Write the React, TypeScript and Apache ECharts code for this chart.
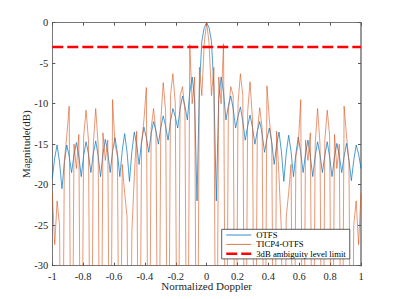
import React, { useEffect, useRef } from "react";
import * as echarts from "echarts";

// Sample spacing of the Doppler grid (-1 .. 1)
const SAMPLE_STEP = 1 / 64;
const D = -60; // deep null (below the axis floor)

// OTFS ambiguity cut (dB)
const otfsDb = [
  -19.2, -16.7, -15.1, -17.2,
  -20.5, -17.3, -15.1, -16.5,
  -18.5, -16.3, -14.8, -16.5,
  -19, -16.4, -14.7, -16.2,
  -18.5, -16.2, -14.6, -16.4,
  -19, -16.2, -14.4, -16,
  -18.5, -15.9, -14.2, -16.1,
  -19, -15.8, -13.7, -16,
  -19.6, -15.9, -13.5, -15.1,
  -17.5, -14.7, -12.9, -14.2,
  -16, -13.7, -12.2, -13.4,
  -15, -12.9, -11.5, -12.8,
  -14.5, -12.2, -10.6, -11.6,
  -13, -10.6, -9.05, -10.3,
  -12, -8.6, -6.7, -9.5,
  -22, -8, -2.3, -0.6,
  0,
  -0.6, -2.3, -8,
  -22, -9.5, -6.7, -8.6,
  -12, -10.3, -9.05, -10.6,
  -13, -11.6, -10.4, -12.2,
  -14.5, -12.8, -11.4, -12.9,
  -15, -13.4, -12.2, -13.7,
  -16, -14.3, -13, -14.8,
  -17.5, -15.1, -13.5, -15.9,
  -19.6, -16.1, -13.9, -15.9,
  -19, -16.2, -14.1, -16,
  -18.5, -16.2, -14.5, -16.5,
  -19, -16.5, -14.7, -16.3,
  -18.5, -16.4, -14.7, -16.6,
  -19, -16.6, -14.9, -16.4,
  -18.5, -16.5, -14.9, -17,
  -19.5, -17, -15.1, -16.2,
  -18,
];

// TICP4-OTFS ambiguity cut (dB)
const ticpDb = [
  -21, -27.4, -22, -25,
  D, -17, -14, -10.3,
  D, -15, -18, -13.8,
  D, -14, -10.8, -14.5,
  D, -15, -10.6, -15,
  D, -13.6, -17, -14.5,
  D, -9.5, -15, -16.5,
  D, -17.5, -21, -24,
  D, -25.8, -19, -13.4,
  D, -15, -12, -8,
  D, -13, -10.6, -13.6,
  D, -12, -7.4, -11,
  D, -9, -6.3, -10,
  D, -9, -7.9, -11,
  D, -2.7, -10, -6.7,
  D, -5.5, -9, -2.5,
  0,
  -2.5, -9, -5.5,
  D, -6.7, -10, -2.6,
  D, -11, -7.9, -9,
  D, -10, -6.3, -9,
  D, -11, -7.3, -12,
  D, -13.6, -10.5, -13,
  D, -7.8, -12, -15,
  D, -13.4, -19, -25.8,
  D, -24, -21, -17.5,
  D, -16.5, -15, -9.5,
  D, -14.5, -17, -13.6,
  D, -15, -10.6, -15,
  D, -14.5, -10.8, -14,
  D, -13.8, -18, -15,
  D, -10.3, -14, -17,
  D, -25, -22, -27.4,
  -21,
];

const limitDb = [-3, -3];
const limitX = [-1, 1];
const seriesNames = ["OTFS", "TICP4-OTFS", "3dB ambiguity level limit"];

export default function App() {
  const ref = useRef<HTMLDivElement>(null);

  useEffect(() => {
    const chart = echarts.init(ref.current!, null, { renderer: "svg" });
    const doppler = otfsDb.map((_, i) => -1 + i * SAMPLE_STEP);
    const font = "'Liberation Serif', 'Times New Roman', serif";
    const axisColor = "#777777";
    const labelColor = "#262626";

    const baseX = {
      type: "value",
      min: -1,
      max: 1,
      interval: 0.2,
      splitLine: { show: false },
    };
    const baseY = {
      type: "value",
      min: -30,
      max: 0,
      interval: 5,
      splitLine: { show: false },
    };

    chart.setOption({
      animation: false,
      backgroundColor: "#ffffff",
      grid: { left: 52.3, right: 38, top: 22.7, bottom: 33.3 },
      legend: {
        data: [
          { name: seriesNames[0], lineStyle: { width: 0.8 } },
          { name: seriesNames[1], lineStyle: { width: 0.8 } },
          { name: seriesNames[2], lineStyle: { width: 2.5 } },
        ],
        orient: "vertical",
        left: 221.7,
        top: 229.3,
        itemWidth: 25,
        itemHeight: 10,
        itemGap: 0.4,
        padding: [1.2, 4, 0.6, 3.3],
        backgroundColor: "#ffffff",
        borderColor: "#333333",
        borderWidth: 0.8,
        borderRadius: 0,
        itemStyle: { opacity: 0 },
        textStyle: { fontFamily: font, fontSize: 8.7, color: "#000000" },
      },
      xAxis: [
        {
          ...baseX,
          position: "bottom",
          name: "Normalized Doppler",
          nameLocation: "middle",
          nameGap: 15,
          nameMoveOverlap: false,
          nameTextStyle: { fontFamily: font, fontSize: 11, color: labelColor },
          axisLine: { show: true, onZero: false, lineStyle: { color: axisColor, width: 1 } },
          axisTick: { show: true, inside: true, length: 3, lineStyle: { color: "#555555" } },
          axisLabel: { fontFamily: font, fontSize: 10.5, color: labelColor, margin: 5 },
        },
        {
          ...baseX,
          position: "top",
          axisLine: { show: true, onZero: false, lineStyle: { color: axisColor, width: 1 } },
          axisTick: { show: true, inside: true, length: 3, lineStyle: { color: "#555555" } },
          axisLabel: { show: false },
        },
      ],
      yAxis: [
        {
          ...baseY,
          position: "left",
          name: "Magnitude(dB)",
          nameLocation: "middle",
          nameGap: 21,
          nameMoveOverlap: false,
          nameTextStyle: { fontFamily: font, fontSize: 11, color: labelColor },
          axisLine: { show: true, onZero: false, lineStyle: { color: axisColor, width: 1 } },
          axisTick: { show: true, inside: true, length: 3, lineStyle: { color: "#555555" } },
          axisLabel: { fontFamily: font, fontSize: 10.5, color: labelColor, margin: 4 },
        },
        {
          ...baseY,
          position: "right",
          axisLine: { show: true, onZero: false, lineStyle: { color: axisColor, width: 1.5 } },
          axisTick: { show: true, inside: true, length: 3, lineStyle: { color: "#555555" } },
          axisLabel: { show: false },
        },
      ],
      series: [
        {
          name: seriesNames[0],
          type: "line",
          data: doppler.map((x, i) => [x, otfsDb[i]]),
          symbol: "none",
          showSymbol: false,
          clip: true,
          lineStyle: { color: "#0072BD", width: 0.7 },
          itemStyle: { color: "#0072BD" },
          z: 2,
        },
        {
          name: seriesNames[1],
          type: "line",
          data: doppler.map((x, i) => [x, ticpDb[i]]),
          symbol: "none",
          showSymbol: false,
          clip: true,
          lineStyle: { color: "#D95319", width: 0.6 },
          itemStyle: { color: "#D95319" },
          z: 3,
        },
        {
          name: seriesNames[2],
          type: "line",
          data: limitX.map((x, i) => [x, limitDb[i]]),
          symbol: "none",
          showSymbol: false,
          lineStyle: { color: "#FF0000", width: 2.5, type: [11, 4] },
          itemStyle: { color: "#FF0000" },
          z: 4,
        },
      ],
    });
    return () => chart.dispose();
  }, []);

  return (
    <div
      ref={ref}
      style={{ position: "fixed", left: 0, top: 0, width: 399, height: 299, background: "#ffffff" }}
    />
  );
}
